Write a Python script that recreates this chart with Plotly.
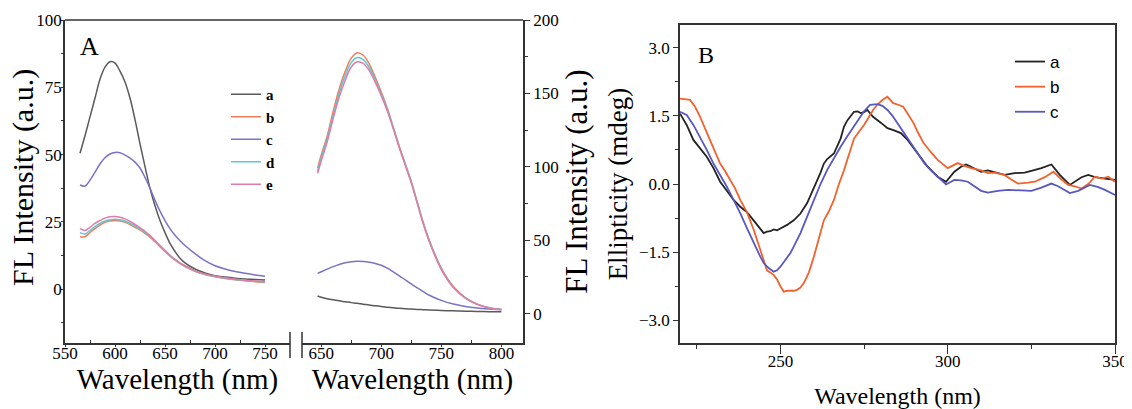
import plotly.graph_objects as go

W, H = 1132, 409
PAGE_PAD = 8  # default body margin of the written html page

# --- Panel A, left segment (short wavelength band) ---
wl_a1 = [565, 570, 575, 580, 585, 590, 595, 600, 605, 610, 615, 620, 625, 630, 635,
         640, 645, 650, 655, 660, 665, 670, 680, 690, 700, 710, 720, 730, 740, 750]
a1_a = [50.5, 57, 64, 71, 78, 82.5, 84.5, 84, 81, 77, 71, 63, 54, 45.5, 37.5,
        31, 25.5, 21, 17, 14, 11.5, 9.8, 7.5, 6, 5, 4.5, 4.1, 3.8, 3.6, 3.4]
a1_b = [19.5, 19.5, 21, 22.5, 23.8, 24.8, 25.3, 25.5, 25.3, 24.8, 24, 23, 22, 20.7, 19.3,
        17.6, 15.8, 14, 12.3, 10.8, 9.5, 8.4, 6.6, 5.4, 4.6, 4, 3.5, 3.1, 2.8, 2.5]
a1_c = [38.7, 38.3, 40.5, 43.5, 46.5, 48.8, 50.2, 50.8, 50.7, 49.8, 48.7, 47.2, 45, 41.5, 37.5,
        33, 29, 25.5, 22.5, 20, 18, 16.2, 13.2, 10.6, 8.7, 7.5, 6.6, 5.9, 5.3, 4.8]
a1_d = [21, 20.5, 21.8, 23.2, 24.4, 25.3, 25.8, 26, 25.8, 25.3, 24.5, 23.5, 22.4, 21.1, 19.6,
        17.9, 16, 14.2, 12.5, 11, 9.7, 8.6, 6.8, 5.5, 4.7, 4.1, 3.6, 3.2, 2.9, 2.7]
a1_e = [22.5, 21.8, 23, 24.4, 25.5, 26.4, 26.9, 27, 26.7, 26.1, 25.2, 24.1, 22.9, 21.5, 19.9,
        18.1, 16.2, 14.4, 12.6, 11.1, 9.8, 8.7, 6.9, 5.6, 4.8, 4.2, 3.7, 3.3, 3.0, 2.8]

# --- Panel A, right segment (long wavelength band) ---
wl_a2 = [647, 650, 655, 660, 665, 670, 675, 680, 685, 690, 695, 700, 705, 710, 715,
         720, 725, 730, 735, 740, 750, 760, 770, 780, 790, 800]
a2_a = [12, 11.2, 10.2, 9.4, 8.7, 8.1, 7.5, 7, 6.4, 5.9, 5.3, 4.8, 4.4, 4, 3.6,
        3.3, 3.1, 2.9, 2.7, 2.5, 2.2, 1.9, 1.7, 1.5, 1.3, 1.2]
a2_b = [99, 108, 121, 138, 153, 165, 174, 177.7, 176, 170, 161, 151, 140, 127, 114,
        102, 90, 76, 62, 50, 31, 18.5, 11, 6.5, 4, 2.8]
a2_c = [27.4, 28.5, 30.3, 32, 33.5, 34.6, 35.3, 35.6, 35.5, 35, 34.2, 33, 31, 28.5, 25.8,
        23, 20.2, 17.5, 15, 12.5, 9, 6.5, 4.8, 3.8, 3.2, 2.8]
a2_d = [97, 106, 119, 135, 150, 162, 171, 174.5, 173, 167.5, 159, 149.5, 139, 126.5, 113.5,
        101.5, 89.5, 75.5, 61.5, 49.5, 30.5, 18, 10.8, 6.3, 3.9, 2.7]
a2_e = [95.5, 104, 117, 133, 147.5, 159, 168, 171.5, 170.5, 165.5, 157.5, 148.5, 138, 126, 113,
        101, 89, 75, 61, 49, 30, 17.8, 10.6, 6.2, 3.8, 2.6]

# --- Panel B, CD spectra ---
wl_b_a = [220, 222, 224, 226, 228, 230, 232, 234, 236, 238, 239, 240, 242, 244, 245, 246, 247, 248,
          249, 250, 252, 254, 256, 258, 260, 262, 263, 264, 266, 268, 269, 270, 272, 273, 274, 275,
          276, 277.7, 280, 282, 284, 286, 288, 289.5, 292, 294, 297, 299.5, 302, 304, 305.5, 308,
          310, 312, 315, 317, 320, 323, 325, 328, 331, 333.5, 336.5, 338, 340, 342, 344, 347, 350]
cd_a = [1.55, 1.3, 0.97, 0.78, 0.6, 0.35, 0.05, -0.15, -0.35, -0.5, -0.57, -0.62, -0.8, -1.0,
        -1.08, -1.05, -1.04, -1.0, -1.02, -0.98, -0.9, -0.8, -0.65, -0.42, -0.1, 0.25, 0.45, 0.55,
        0.67, 1.0, 1.26, 1.4, 1.59, 1.6, 1.56, 1.58, 1.63, 1.48, 1.35, 1.23, 1.18, 1.12, 0.97, 0.82,
        0.58, 0.38, 0.16, 0.05, 0.27, 0.38, 0.43, 0.35, 0.27, 0.3, 0.24, 0.2, 0.24, 0.25, 0.29, 0.35,
        0.43, 0.2, -0.02, 0.05, 0.15, 0.2, 0.15, 0.12, 0.09]

wl_b_b = [220, 223, 224.5, 226, 227.5, 229, 230.5, 232, 233.5, 235, 236.5, 238, 240, 242, 244,
          246, 248, 249, 250, 251, 252, 254, 255, 256, 257, 258.5, 260, 261.5, 263, 264.5, 266,
          267.5, 269, 270.5, 272, 273.5, 275, 276.5, 277.7, 279, 280.5, 282, 283.7, 285, 286.7,
          288, 289.8, 291, 292.8, 295, 297, 300, 301.5, 303, 305, 307, 310, 312, 314, 317, 319,
          321, 324, 326, 329, 331.6, 334, 336, 338, 340, 342, 344, 346, 348, 350]
cd_b = [1.88, 1.85, 1.7, 1.48, 1.22, 0.97, 0.7, 0.45, 0.28, 0.09, -0.1, -0.35, -0.62, -1.0,
        -1.45, -1.9, -2.0, -2.1, -2.25, -2.37, -2.35, -2.35, -2.33, -2.28, -2.18, -1.95, -1.6,
        -1.2, -0.8, -0.6, -0.35, 0.0, 0.3, 0.65, 1.0, 1.15, 1.3, 1.48, 1.63, 1.75, 1.85, 1.92,
        1.78, 1.75, 1.7, 1.55, 1.34, 1.15, 0.9, 0.7, 0.53, 0.35, 0.4, 0.46, 0.4, 0.35, 0.3, 0.24,
        0.25, 0.2, 0.1, 0.01, 0.03, 0.05, 0.15, 0.27, 0.1, -0.02, -0.05, -0.1, 0.0, 0.16, 0.12,
        0.16, 0.05]

wl_b_c = [220, 222, 224, 226, 228, 230, 232, 234, 236, 238, 240, 242, 244, 245, 246.5, 248, 249,
          250, 251.5, 253, 254.5, 256, 258, 260, 262, 264, 266, 268, 270, 272, 274, 275, 276.8,
          279, 280.5, 282, 283.5, 285, 287, 289, 291, 293, 295, 297, 299.5, 302, 304, 306, 308,
          310, 312, 315, 318, 321, 325, 328, 331, 333, 336.5, 339, 342.5, 345, 347, 350]
cd_c = [1.59, 1.52, 1.3, 1.04, 0.75, 0.45, 0.2, -0.06, -0.35, -0.64, -0.97, -1.3, -1.6, -1.74,
        -1.85, -1.93, -1.9, -1.82, -1.68, -1.52, -1.3, -1.08, -0.72, -0.35, 0.0, 0.31, 0.57, 0.82,
        1.05, 1.28, 1.5, 1.6, 1.74, 1.76, 1.72, 1.63, 1.5, 1.34, 1.12, 0.9, 0.68, 0.46, 0.3, 0.16,
        -0.01, 0.09, 0.08, 0.05, -0.05, -0.15, -0.19, -0.15, -0.13, -0.14, -0.15, -0.08, 0.01,
        -0.05, -0.2, -0.15, -0.02, -0.07, -0.13, -0.24]

labels_a = ['a', 'b', 'c', 'd', 'e']
colors_a = ['#5a5a5a', '#f07c5c', '#7a72c8', '#5cc8d2', '#e07ca8']
labels_b = ['a', 'b', 'c']
colors_b = ['#222222', '#f2622e', '#5858c0']

SERIF = 'Liberation Serif, Times New Roman, serif'
SANS = 'Liberation Sans, Arial, sans-serif'


# screen pixel -> paper fraction (page body has an 8px margin)
def px_x(p):
    return (p - PAGE_PAD) / W


def px_y(p):
    return 1 - (p - PAGE_PAD) / H


# panel frames in screen pixels
xa1 = [px_x(65), px_x(290)]
xa2 = [px_x(302), px_x(523)]
xb = [px_x(680), px_x(1115)]
ya = [px_y(343), px_y(20)]
yb = [px_y(343), px_y(25)]

fig = go.Figure()

left_y = [a1_a, a1_b, a1_c, a1_d, a1_e]
right_y = [a2_a, a2_b, a2_c, a2_d, a2_e]
for i in range(5):
    fig.add_trace(go.Scatter(x=wl_a1, y=left_y[i], mode='lines', name=labels_a[i],
                             line=dict(color=colors_a[i], width=1.5, shape='spline'),
                             xaxis='x', yaxis='y', legend='legend'))
for i in range(5):
    fig.add_trace(go.Scatter(x=wl_a2, y=right_y[i], mode='lines', name=labels_a[i],
                             line=dict(color=colors_a[i], width=1.5, shape='spline'),
                             xaxis='x2', yaxis='y2', showlegend=False))

cd_x = [wl_b_a, wl_b_b, wl_b_c]
cd_y = [cd_a, cd_b, cd_c]
for i in range(3):
    fig.add_trace(go.Scatter(x=cd_x[i], y=cd_y[i], mode='lines', name=labels_b[i],
                             line=dict(color=colors_b[i], width=1.8),
                             xaxis='x3', yaxis='y3', legend='legend2'))

tick_font = dict(family=SERIF, size=17, color='black')
xtitle_a = dict(family=SERIF, size=29, color='black')
ytitle_a = dict(family=SERIF, size=31, color='black')
xtitle_b = dict(family=SERIF, size=24, color='black')
ytitle_b = dict(family=SERIF, size=27, color='black')
axis_common = dict(showline=True, linecolor='#333', linewidth=1.5, showgrid=False,
                   zeroline=False, tickfont=tick_font, ticks='outside', tickcolor='#333',
                   tickwidth=1.2, automargin=False)

fig.update_layout(
    template='none',
    width=W, height=H,
    margin=dict(l=0, r=0, t=0, b=0),
    paper_bgcolor='white', plot_bgcolor='white',
    xaxis=dict(axis_common, domain=xa1, range=[550, 775], anchor='y',
               tickvals=[550, 600, 650, 700, 750], ticklen=2, ticklabelstandoff=-8,
               minor=dict(tickvals=[575, 625, 675, 725], ticks='inside', ticklen=3, tickcolor='#333'),
               title=dict(text='Wavelength (nm)', font=xtitle_a, standoff=0)),
    xaxis2=dict(axis_common, domain=xa2, range=[634, 818], anchor='y2',
                tickvals=[650, 700, 750, 800], ticklen=2, ticklabelstandoff=-8,
                minor=dict(tickvals=[675, 725, 775], ticks='inside', ticklen=3, tickcolor='#333'),
                title=dict(text='Wavelength (nm)', font=xtitle_a, standoff=0)),
    yaxis=dict(axis_common, domain=ya, range=[-20, 100], anchor='x',
               tickvals=[0, 25, 50, 75, 100], ticklen=2, ticklabelstandoff=-4,
               minor=dict(tickvals=[-12.5, 12.5, 37.5, 62.5, 87.5], ticks='outside', ticklen=2, tickcolor='#333')),
    yaxis2=dict(axis_common, domain=ya, range=[-20, 200], anchor='x2', side='right',
                tickvals=[0, 50, 100, 150, 200], ticklen=5,
                minor=dict(tickvals=[25, 75, 125, 175], ticks='outside', ticklen=3, tickcolor='#333'),
                title=dict(text='FL Intensity (a.u.)', font=ytitle_a, standoff=8)),
    xaxis3=dict(axis_common, domain=xb, range=[220, 350], anchor='y3', mirror=True,
                tickvals=[250, 300, 350], ticklen=9, ticklabelstandoff=-7,
                minor=dict(tickvals=[225, 275, 325], ticks='outside', ticklen=4, tickcolor='#333'),
                title=dict(text='Wavelength (nm)', font=xtitle_b, standoff=17)),
    yaxis3=dict(axis_common, domain=yb, range=[-3.5, 3.5], anchor='x3', mirror=True,
                tickvals=[-3.0, -1.5, 0.0, 1.5, 3.0], tickformat='.1f', ticklen=5,
                minor=dict(tickvals=[-2.25, -0.75, 0.75, 2.25], ticks='outside', ticklen=3, tickcolor='#333'),
                title=dict(text='Ellipticity (mdeg)', font=ytitle_b, standoff=4)),
    legend=dict(x=px_x(226), y=px_y(78), xanchor='left', yanchor='top',
                bgcolor='rgba(0,0,0,0)', borderwidth=0,
                font=dict(family=SERIF, size=15, color='black', weight='bold'),
                itemwidth=30),
    legend2=dict(x=px_x(1010), y=px_y(44), xanchor='left', yanchor='top',
                 bgcolor='rgba(0,0,0,0)', borderwidth=0,
                 font=dict(family=SANS, size=17, color='black'),
                 itemwidth=30),
    showlegend=True,
)

# left y title of panel A placed by hand so it sits close to the page edge
fig.add_annotation(text='FL Intensity (a.u.)', xref='paper', yref='paper',
                   x=px_x(23), y=px_y(178), xanchor='center', yanchor='middle',
                   textangle=-90, showarrow=False, borderpad=0,
                   font=dict(family=SERIF, size=30, color='black'))

# continuous top edge of panel A and the axis-break marks
fig.add_shape(type='line', xref='paper', yref='paper', x0=xa1[0], x1=xa2[1], y0=ya[1], y1=ya[1],
              line=dict(color='#333', width=1.5))
for xb_px in (290, 302):
    fig.add_shape(type='line', xref='paper', yref='paper', x0=px_x(xb_px), x1=px_x(xb_px),
                  y0=px_y(358), y1=px_y(332), line=dict(color='#333', width=1.5))

fig.add_annotation(text='A', xref='paper', yref='paper', x=px_x(78), y=px_y(47),
                   xanchor='left', yanchor='middle', showarrow=False,
                   font=dict(family=SERIF, size=26, color='black'))
fig.add_annotation(text='B', xref='paper', yref='paper', x=px_x(696), y=px_y(55),
                   xanchor='left', yanchor='middle', showarrow=False,
                   font=dict(family=SERIF, size=24, color='black'))

fig.write_html("out.html")
